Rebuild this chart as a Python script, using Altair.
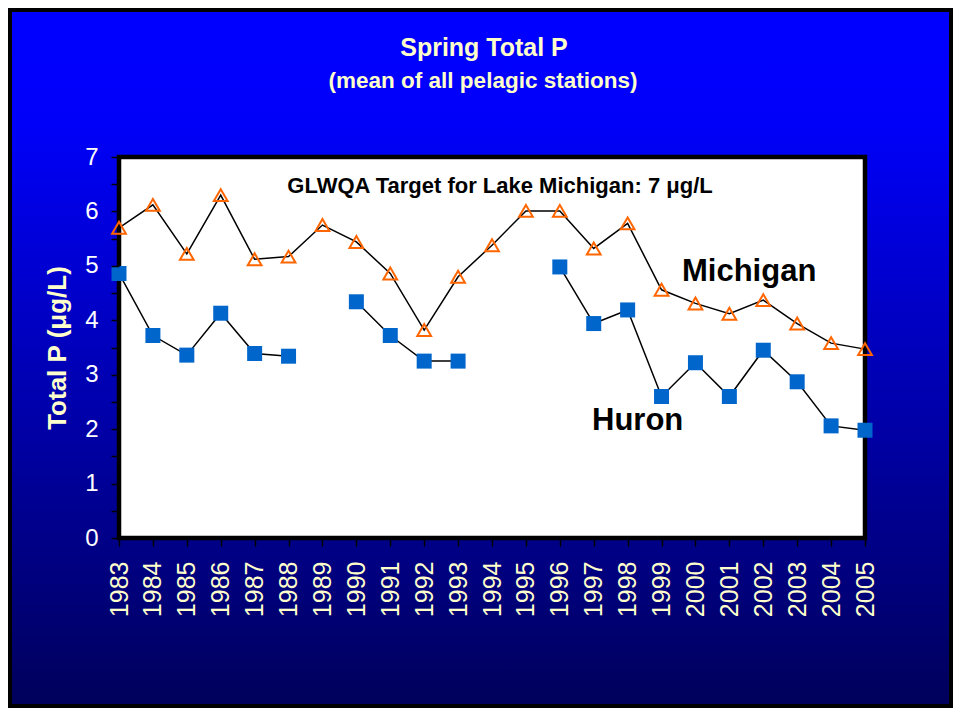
import altair as alt
import pandas as pd

# ---- data ----
years = list(range(1983, 2006))
michigan = [5.70, 6.12, 5.22, 6.30, 5.12, 5.17, 5.75, 5.44, 4.86, 3.82, 4.80, 5.38,
            6.01, 6.01, 5.32, 5.78, 4.56, 4.31, 4.12, 4.37, 3.94, 3.58, 3.47]
huron = [4.86, 3.72, 3.36, 4.13, 3.39, 3.34, None, 4.34, 3.72, 3.25, 3.25, None,
         None, 4.98, 3.94, 4.19, 2.60, 3.22, 2.60, 3.45, 2.87, 2.06, 1.98]
y_ticks = [0, 0.5, 1, 1.5, 2, 2.5, 3, 3.5, 4, 4.5, 5, 5.5, 6, 6.5, 7]

title_text = "Spring Total P"
subtitle_text = "(mean of all pelagic stations)"
target_text = "GLWQA Target for Lake Michigan: 7 \u03bcg/L"
y_title = "Total P (\u03bcg/L)"

# ---- layout ----
W, H = 746, 381
PL, PT, PR, PB = 111, 149, 88, 170
FONT = "Liberation Sans, Arial, sans-serif"
YELLOW = "#FFFFCC"

mich_df = pd.DataFrame({"year": years, "value": michigan})
rows = []
seg = 0
prev_none = True
for yv, v in zip(years, huron):
    if v is None:
        prev_none = True
        continue
    if prev_none:
        seg += 1
    prev_none = False
    rows.append({"year": yv, "value": v, "seg": seg})
huron_df = pd.DataFrame(rows)
one = pd.DataFrame({"a": [0]})

x_axis = alt.Axis(title=None, labelAngle=270, labelColor=YELLOW, labelFont=FONT,
                  labelFontSize=25, labelPadding=15, tickSize=8, tickWidth=1.5,
                  tickColor="black", domain=False, grid=False, zindex=1)
y_axis = alt.Axis(title=y_title, values=y_ticks,
                  labelExpr="datum.value % 1 == 0 ? format(datum.value, 'd') : ''",
                  labelColor="white", labelFont=FONT, labelFontSize=24,
                  labelPadding=13, tickSize=8, tickWidth=1.5, tickColor="black",
                  domain=False, grid=False, zindex=1,
                  titleColor=YELLOW, titleFont=FONT, titleFontSize=26,
                  titleFontWeight="bold", titleX=-62, titleY=H / 2,
                  titleAngle=270, titleAlign="center", titleBaseline="middle")

X = alt.X("year:O", scale=alt.Scale(type="point", padding=0), axis=x_axis)
Y = alt.Y("value:Q", scale=alt.Scale(domain=[0, 7], nice=False, zero=True), axis=y_axis)

gradient = {
    "gradient": "linear", "x1": 0, "y1": 0, "x2": 0, "y2": 1,
    "stops": [
        {"offset": 0, "color": "#0000FF"},
        {"offset": 0.16, "color": "#0000FA"},
        {"offset": 1, "color": "#00005A"},
    ],
}

bg = alt.Chart(one).mark_rect(fill=gradient, stroke="black", strokeWidth=8).encode(
    x=alt.value(-PL), x2=alt.value(W + PR), y=alt.value(-PT), y2=alt.value(H + PB)
)

title1 = alt.Chart(one).mark_text(text=title_text, font=FONT, fontSize=25, fontWeight="bold",
                                  color=YELLOW, align="center", baseline="alphabetic").encode(
    x=alt.value(365), y=alt.value(-101))
title2 = alt.Chart(one).mark_text(text=subtitle_text, font=FONT, fontSize=22.5, fontWeight="bold",
                                  color=YELLOW, align="center", baseline="alphabetic").encode(
    x=alt.value(364), y=alt.value(-69))

plot_bg = alt.Chart(one).mark_rect(fill="white").encode(
    x=alt.value(0), x2=alt.value(W), y=alt.value(0), y2=alt.value(H))
frame = alt.Chart(one).mark_rect(fill="transparent", stroke="black", strokeWidth=4.5).encode(
    x=alt.value(0), x2=alt.value(W), y=alt.value(0), y2=alt.value(H))

mich_line = alt.Chart(mich_df).mark_line(color="black", strokeWidth=1.5).encode(x=X, y=Y)
huron_line = alt.Chart(huron_df).mark_line(color="black", strokeWidth=1.5).encode(
    x=X, y=Y, detail="seg:N")
mich_pts = alt.Chart(mich_df).mark_point(shape="triangle-up", filled=False, color="#FF6600",
                                         strokeWidth=2, size=190, opacity=1).encode(x=X, y=Y)
huron_pts = alt.Chart(huron_df).mark_square(color="#0066CC", size=225, opacity=1).encode(x=X, y=Y)

target = alt.Chart(one).mark_text(text=target_text, font=FONT, fontSize=22, fontWeight="bold",
                                  color="black", align="center", baseline="alphabetic").encode(
    x=alt.value(381), y=alt.value(36))
mich_lab = alt.Chart(one).mark_text(text="Michigan", font=FONT, fontSize=31, fontWeight="bold",
                                    color="black", align="left", baseline="alphabetic").encode(
    x=alt.value(563), y=alt.value(124))
huron_lab = alt.Chart(one).mark_text(text="Huron", font=FONT, fontSize=31, fontWeight="bold",
                                     color="black", align="left", baseline="alphabetic").encode(
    x=alt.value(473), y=alt.value(273))

chart = alt.layer(
    bg, title1, title2, plot_bg, mich_line, huron_line, frame, mich_pts, huron_pts,
    target, mich_lab, huron_lab
).properties(
    width=W, height=H,
    autosize=alt.AutoSizeParams(type="none"),
    padding={"left": PL, "top": PT, "right": PR, "bottom": PB},
    background="#00005A",
).configure_view(stroke="transparent")

chart.save("out.html", embed_options={"renderer": "svg", "actions": False})
